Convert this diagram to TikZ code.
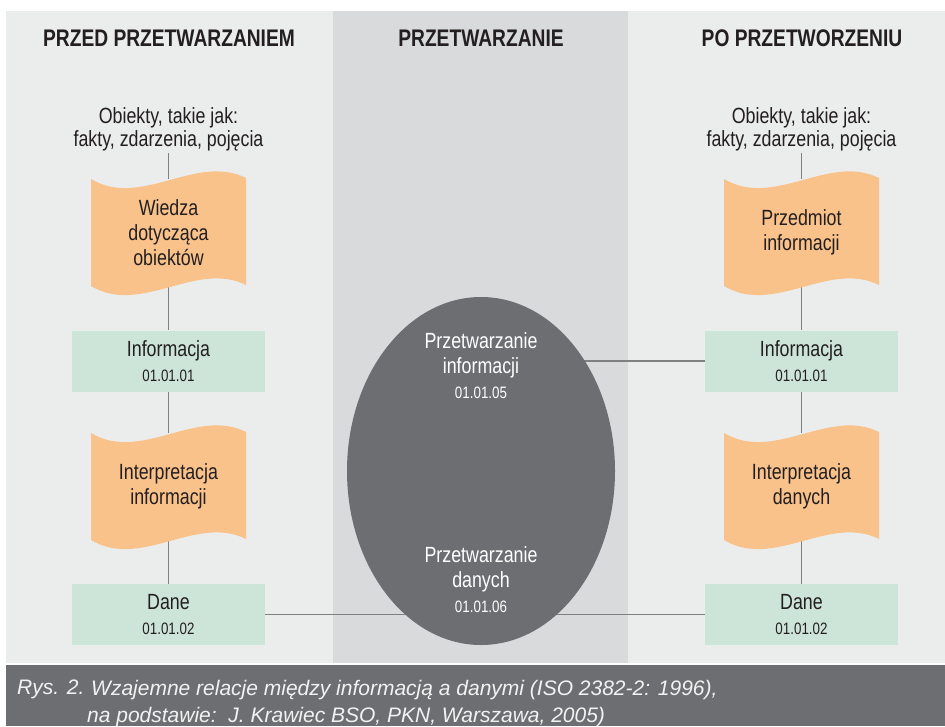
\documentclass[tikz,border=0pt]{standalone}
\usepackage{fontspec}
\setmainfont{Liberation Sans}
\newfontfamily\condfont[FakeStretch=0.81]{Liberation Sans}
\newfontfamily\headfont[FakeStretch=0.80]{Liberation Sans}
\usetikzlibrary{shapes.geometric}

\definecolor{ink}{HTML}{231F20}
\definecolor{paneLight}{HTML}{EBECEC}
\definecolor{paneMid}{HTML}{D9DADC}
\definecolor{procGray}{HTML}{6D6E71}
\definecolor{flagOrange}{HTML}{F9C28B}
\definecolor{boxGreen}{HTML}{CDE5D9}
\definecolor{lineGray}{HTML}{808080}
\definecolor{captionInk}{HTML}{F2F2F2}

\pgfdeclarelayer{panels}
\pgfdeclarelayer{links}
\pgfdeclarelayer{flags}
\pgfsetlayers{panels,links,flags,main}

\newcommand\codesize{\fontsize{16.5}{25}\selectfont}

% waving flag drawn around a node of size 155 x 107
\newcommand\drawflag[1]{%
  \begin{pgfonlayer}{flags}
    \fill[flagOrange, shift={(#1.center)}]
      (-77.5,-53.5) .. controls (-27.5,-23.5) and (27.5,-79.5) .. (77.5,-54.5)
      -- (77.5,52.5) .. controls (27.5,27.5) and (-27.5,83.5) .. (-77.5,53.5)
      -- cycle;
  \end{pgfonlayer}}

\tikzset{
  head/.style={text=ink, anchor=base, inner sep=0pt,
    font=\headfont\bfseries\fontsize{24}{28}\selectfont},
  objects/.style={text=ink, align=center, inner sep=0pt,
    font=\condfont\fontsize{22}{23}\selectfont},
  flagnode/.style={text=ink, align=center, inner sep=0pt,
    minimum width=155pt, minimum height=107pt,
    font=\condfont\fontsize{22}{25}\selectfont},
  termbox/.style={text=ink, fill=boxGreen, align=center, inner sep=0pt,
    minimum width=193pt, minimum height=61pt,
    font=\condfont\fontsize{22}{25}\selectfont},
  procbody/.style={ellipse, fill=procGray, inner sep=0pt,
    minimum width=268pt, minimum height=348pt},
  proctext/.style={text=white, align=center, inner sep=0pt,
    font=\condfont\fontsize{22}{25}\selectfont},
  link/.style={draw=lineGray, line width=1.6pt},
  captiontext/.style={text=captionInk, inner sep=0pt, align=left,
    font=\fontsize{21}{27}\selectfont\itshape},
}

\begin{document}
\begin{tikzpicture}[x=1pt,y=-1pt]
  \useasboundingbox (0,0) rectangle (945,726);

  % panels
  \begin{pgfonlayer}{panels}
    \fill[white] (0,0) rectangle (945,726);
    \fill[paneLight] (6,11) rectangle (945,663);
    \fill[paneMid] (333,11) rectangle (628,663);
    \fill[procGray] (6,665) rectangle (945,726);
  \end{pgfonlayer}

  % column headings
  \node[head] (hleft)  at (169,46.5) {PRZED PRZETWARZANIEM};
  \node[head] (hmid)   at (481,46.5) {PRZETWARZANIE};
  \node[head] (hright) at (802,46.5) {PO PRZETWORZENIU};

  % left column
  \node[objects] (lobj) at (168.5,129) {Obiekty, takie jak:\\fakty, zdarzenia, pojęcia};
  \node[flagnode] (lflag1) at (168.5,232.5) {Wiedza\\dotycząca\\obiektów};
  \node[termbox] (linfo) at (168.5,361) {Informacja\\{\codesize 01.01.01}};
  \node[flagnode] (lflag2) at (168.5,486.5) {Interpretacja\\informacji};
  \node[termbox] (ldane) at (168.5,614.5) {Dane\\{\codesize 01.01.02}};

  % right column
  \node[objects] (robj) at (801.5,129) {Obiekty, takie jak:\\fakty, zdarzenia, pojęcia};
  \node[flagnode] (rflag1) at (801.5,232.5) {Przedmiot\\informacji};
  \node[termbox] (rinfo) at (801.5,361) {Informacja\\{\codesize 01.01.01}};
  \node[flagnode] (rflag2) at (801.5,486.5) {Interpretacja\\danych};
  \node[termbox] (rdane) at (801.5,614.5) {Dane\\{\codesize 01.01.02}};

  \drawflag{lflag1}
  \drawflag{lflag2}
  \drawflag{rflag1}
  \drawflag{rflag2}

  % processing
  \node[procbody] (proc) at (481,471) {};
  \node[proctext] (procinfo) at (481,366) {Przetwarzanie\\informacji\\{\codesize 01.01.05}};
  \node[proctext] (procdata) at (481,579.5) {Przetwarzanie\\danych\\{\codesize 01.01.06}};

  % connectors
  \begin{pgfonlayer}{links}
    \draw[link] ([yshift=-2pt]lobj.south) -- (lflag1) -- (linfo) -- (lflag2) -- (ldane);
    \draw[link] ([yshift=-2pt]robj.south) -- (rflag1) -- (rinfo) -- (rflag2) -- (rdane);
    \draw[link] (ldane) -- (rdane);
    \draw[link] (rinfo.west) -- (proc.center |- rinfo.west);
  \end{pgfonlayer}

  % caption
  \node[captiontext, anchor=north west] (capnum) at (17,679.7) {Rys. 2.};
  \node[captiontext, anchor=north west] (captext) at (87,679.7)
    {\hspace*{4pt}Wzajemne relacje między informacją a danymi (ISO 2382-2: 1996),\\
     na podstawie:\ \ J. Krawiec BSO, PKN, Warszawa, 2005)};
\end{tikzpicture}
\end{document}
